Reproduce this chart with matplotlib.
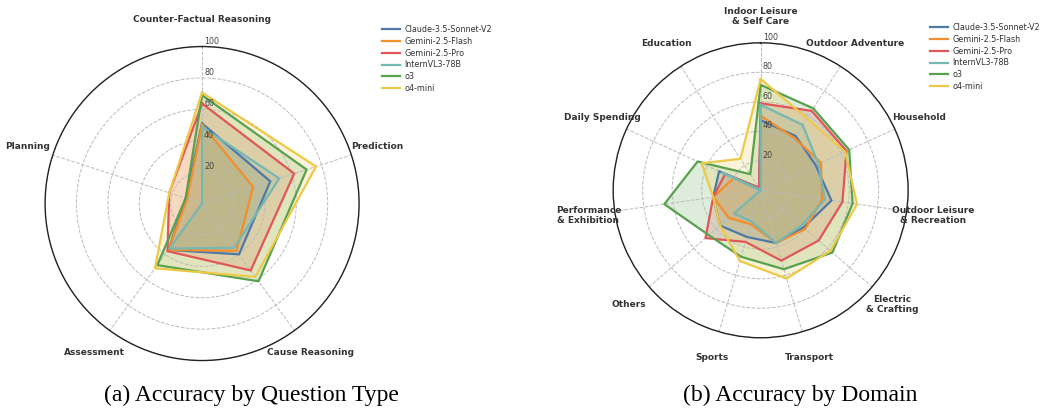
import numpy as np
import matplotlib.pyplot as plt
from matplotlib.transforms import offset_copy

models = ["Claude-3.5-Sonnet-V2", "Gemini-2.5-Flash", "Gemini-2.5-Pro",
          "InternVL3-78B", "o3", "o4-mini"]
colors = ["#4e79a7", "#f28e2b", "#e15759", "#76b7b2", "#59a14f", "#edc948"]

# accuracy (%) by question type
question_types = ["Counter-Factual Reasoning", "Prediction", "Cause Reasoning",
                  "Assessment", "Planning"]
qt_claude = [51.0, 45.7, 40.0, 36.5, 11.0]
qt_flash = [50.3, 34.2, 37.3, 36.5, 10.0]
qt_pro = [63.7, 61.7, 52.7, 37.5, 22.0]
qt_internvl = [48.8, 51.7, 34.8, 35.5, 0.0]
qt_o3 = [69.0, 70.0, 61.2, 48.5, 11.0]
qt_o4mini = [70.7, 76.3, 57.8, 51.0, 22.0]

# accuracy (%) by domain
domains = ["Indoor Leisure\n& Self Care", "Outdoor Adventure", "Household",
           "Outdoor Leisure\n& Recreation", "Electric\n& Crafting", "Transport",
           "Sports", "Others", "Performance\n& Exhibition", "Daily Spending",
           "Education"]
dm_claude = [47.5, 43.8, 41.0, 48.5, 38.5, 37.3, 33.0, 36.5, 32.5, 31.0, 2.0]
dm_flash = [50.5, 42.2, 45.0, 42.0, 40.0, 37.3, 24.0, 28.5, 32.5, 20.0, 0.0]
dm_pro = [59.0, 64.0, 64.0, 56.0, 52.0, 49.7, 36.5, 49.5, 32.5, 26.5, 2.0]
dm_internvl = [58.0, 52.7, 43.0, 44.0, 36.5, 37.3, 22.0, 24.0, 0.0, 28.6, 0.0]
dm_o3 = [71.5, 66.0, 66.0, 63.0, 64.4, 55.8, 47.0, 46.5, 66.0, 47.0, 13.0]
dm_o4mini = [75.5, 58.0, 63.0, 66.0, 62.6, 62.4, 50.0, 36.5, 32.5, 44.0, 25.4]

rticks = [20, 40, 60, 80, 100]


def radar(fig, ax, categories, series, label_r):
    n = len(categories)
    angles = np.linspace(0, 2 * np.pi, n, endpoint=False)
    ax.set_theta_offset(np.pi / 2)
    ax.set_theta_direction(-1)
    loop = np.append(angles, angles[0])
    for name, vals, c in zip(models, series, colors):
        v = np.append(vals, vals[0])
        ax.plot(loop, v, color=c, lw=1.6, label=name)
        ax.fill(loop, v, color=c, alpha=0.2)
    ax.set_ylim(0, 100)
    ax.set_yticks(rticks)
    ax.set_yticklabels([])
    ax.set_xticks(angles)
    ax.set_xticklabels([])
    ax.grid(color="#bbbbbb", ls="--", lw=0.7)
    ax.spines["polar"].set_color("#222222")
    ax.spines["polar"].set_linewidth(1.0)
    shifted = offset_copy(ax.transData, fig=fig, x=2, y=1, units="dots")
    for r in rticks:
        ax.text(0, r, str(r), transform=shifted, ha="left", va="bottom",
                fontsize=5.8, color="#444444")
    for a, lab in zip(angles, categories):
        ax.text(a, label_r, lab, ha="center", va="center", fontsize=6.5,
                fontweight="bold", color="#333333", linespacing=1.15)


fig = plt.figure(figsize=(10.43, 4.09), dpi=100)

ax1 = fig.add_axes([0.0432, 0.1185, 0.3011, 0.7677], projection="polar")
radar(fig, ax1, question_types,
      [qt_claude, qt_flash, qt_pro, qt_internvl, qt_o3, qt_o4mini], 117)
ax1.legend(loc="upper left", bbox_to_anchor=(382 / 1043, 1 - 25 / 409),
           bbox_transform=fig.transFigure, frameon=False, fontsize=5.8,
           handlelength=2.2, handletextpad=0.6, labelspacing=0.35,
           borderpad=0, borderaxespad=0, labelcolor="#333333")

ax2 = fig.add_axes([0.5879, 0.1741, 0.2828, 0.7213], projection="polar")
radar(fig, ax2, domains,
      [dm_claude, dm_flash, dm_pro, dm_internvl, dm_o3, dm_o4mini], 118)
ax2.legend(loc="upper left", bbox_to_anchor=(930 / 1043, 1 - 23 / 409),
           bbox_transform=fig.transFigure, frameon=False, fontsize=5.8,
           handlelength=2.2, handletextpad=0.6, labelspacing=0.35,
           borderpad=0, borderaxespad=0, labelcolor="#333333")

fig.text(0.2407, 0.034, "(a) Accuracy by Question Type", ha="center",
         va="center", family="Liberation Serif", fontsize=17)
fig.text(0.767, 0.034, "(b) Accuracy by Domain", ha="center",
         va="center", family="Liberation Serif", fontsize=17)

fig.savefig("out.png", dpi=100, facecolor="white")
